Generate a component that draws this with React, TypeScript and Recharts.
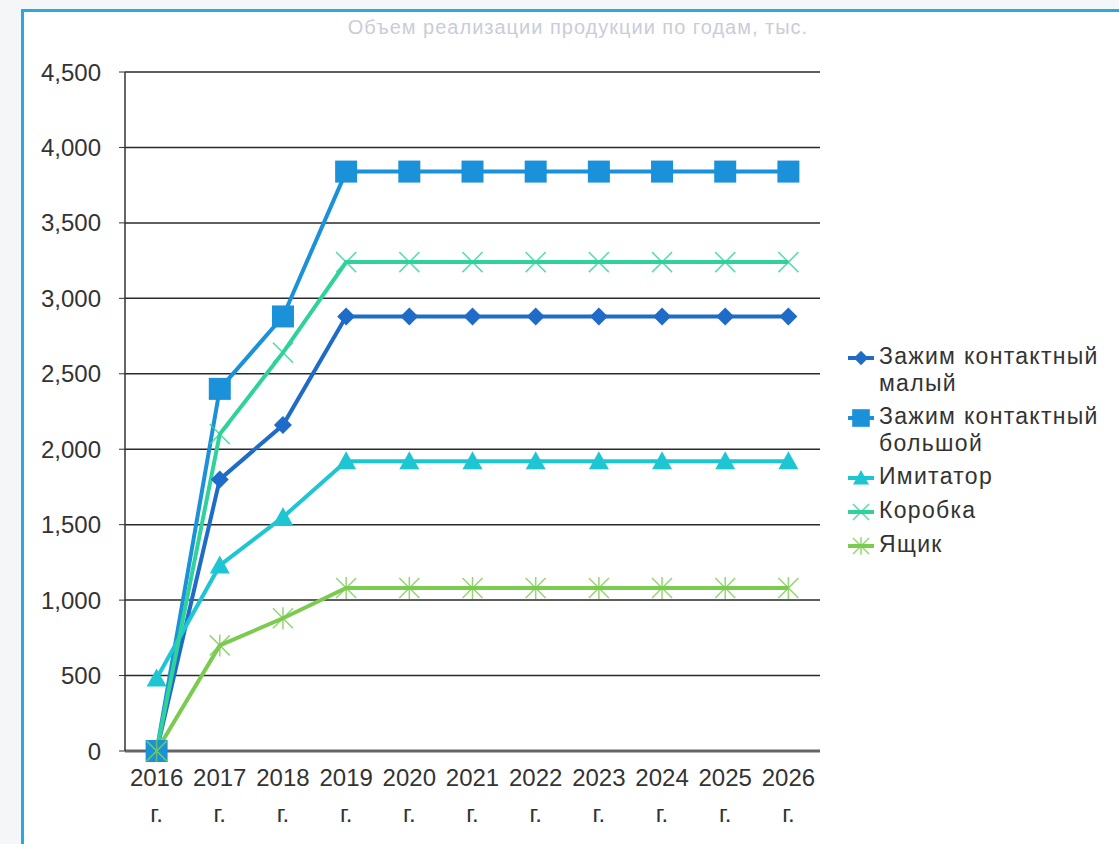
import { CartesianGrid, Line, LineChart, XAxis, YAxis } from "recharts";

const years = ["2016", "2017", "2018", "2019", "2020", "2021", "2022", "2023", "2024", "2025", "2026"];
const small = [0, 1800, 2160, 2880, 2880, 2880, 2880, 2880, 2880, 2880, 2880];
const big = [0, 2400, 2880, 3840, 3840, 3840, 3840, 3840, 3840, 3840, 3840];
const imitator = [480, 1230, 1550, 1920, 1920, 1920, 1920, 1920, 1920, 1920, 1920];
const box = [0, 2100, 2640, 3240, 3240, 3240, 3240, 3240, 3240, 3240, 3240];
const crate = [0, 700, 880, 1080, 1080, 1080, 1080, 1080, 1080, 1080, 1080];
const yTicks = [0, 500, 1000, 1500, 2000, 2500, 3000, 3500, 4000, 4500];

const title = "Объем реализации продукции по годам, тыс.";

type Mark = "diamond" | "square" | "triangle" | "cross" | "star";

const series: { key: string; name: string; color: string; mark: Mark; values: number[] }[] = [
  { key: "small", name: "Зажим контактный малый", color: "#1f6cc8", mark: "diamond", values: small },
  { key: "big", name: "Зажим контактный большой", color: "#1a91d9", mark: "square", values: big },
  { key: "imitator", name: "Имитатор", color: "#1ec6d4", mark: "triangle", values: imitator },
  { key: "box", name: "Коробка", color: "#2fd29a", mark: "cross", values: box },
  { key: "crate", name: "Ящик", color: "#7acb4f", mark: "star", values: crate },
];

const rows = years.map((y, i) => {
  const r: Record<string, string | number> = { year: y };
  series.forEach((s) => (r[s.key] = s.values[i]));
  return r;
});

const font = "'Liberation Sans', Arial, sans-serif";

function marker(mark: Mark, color: string, cx: number, cy: number, k = 1) {
  switch (mark) {
    case "diamond": {
      const d = 9 * k;
      return <path d={`M${cx},${cy - d}L${cx + d},${cy}L${cx},${cy + d}L${cx - d},${cy}Z`} fill={color} />;
    }
    case "square": {
      const d = 11 * k;
      return <rect x={cx - d} y={cy - d} width={2 * d} height={2 * d} fill={color} />;
    }
    case "triangle": {
      const d = 10 * k;
      return <path d={`M${cx},${cy - d}L${cx + d},${cy + d * 0.8}L${cx - d},${cy + d * 0.8}Z`} fill={color} />;
    }
    case "cross": {
      const d = 10 * k;
      return (
        <path
          d={`M${cx - d},${cy - d}L${cx + d},${cy + d}M${cx + d},${cy - d}L${cx - d},${cy + d}`}
          stroke={color}
          strokeWidth={1.5}
          strokeOpacity={0.8}
          fill="none"
        />
      );
    }
    case "star": {
      const d = 10 * k;
      return (
        <path
          d={`M${cx - d},${cy - d}L${cx + d},${cy + d}M${cx + d},${cy - d}L${cx - d},${cy + d}M${cx},${cy - d * 1.1}L${cx},${cy + d * 1.1}`}
          stroke={color}
          strokeWidth={1.5}
          strokeOpacity={0.8}
          fill="none"
        />
      );
    }
  }
}

const makeDot = (mark: Mark, color: string) => (p: any) => {
  if (p.cx == null || p.cy == null) return <g key={p.index} />;
  return <g key={p.index}>{marker(mark, color, p.cx, p.cy)}</g>;
};

const YearTick = ({ x, y, payload }: any) => (
  <g>
    <text x={x} y={y + 27} textAnchor="middle" fontSize={24} fill="#333" fontFamily={font}>
      {payload.value}
    </text>
    <text x={x} y={y + 63} textAnchor="middle" fontSize={24} fill="#333" fontFamily={font}>
      г.
    </text>
  </g>
);

export default function App() {
  return (
    <div
      style={{
        position: "absolute",
        left: 0,
        top: 0,
        width: 1119,
        height: 844,
        background: "#f4f6f8",
        overflow: "hidden",
        fontFamily: font,
      }}
    >
      <div
        style={{
          position: "absolute",
          left: 21,
          top: 9,
          width: 1110,
          height: 850,
          background: "#fff",
          borderLeft: "3px solid #2aa9e0",
          borderTop: "3px solid #2aa9e0",
        }}
      />
      <div
        style={{
          position: "absolute",
          left: 0,
          width: 1156,
          top: 16,
          textAlign: "center",
          fontSize: 20,
          color: "#c9cdd8",
          letterSpacing: 1,
        }}
      >
        {title}
      </div>
      <div style={{ position: "absolute", left: 0, top: 0 }}>
        <LineChart width={1119} height={844} data={rows} margin={{ top: 72, right: 299, left: 25, bottom: 13 }}>
          <CartesianGrid vertical={false} stroke="#2a2a2a" strokeWidth={1.5} />
          <XAxis
            dataKey="year"
            padding={{ left: 31.6, right: 31.6 }}
            height={80}
            tick={<YearTick />}
            tickLine={false}
            axisLine={{ stroke: "#666", strokeWidth: 3 }}
            interval={0}
          />
          <YAxis
            width={100}
            domain={[0, 4500]}
            ticks={yTicks}
            interval={0}
            tickFormatter={(v: number) => v.toLocaleString("en-US")}
            tick={{ fontSize: 24, fill: "#333", fontFamily: font }}
            tickLine={{ stroke: "#333" }}
            tickSize={6}
            tickMargin={18}
            axisLine={{ stroke: "#333", strokeWidth: 1.5 }}
          />
          {series.map((s) => (
            <Line
              key={s.key}
              type="linear"
              dataKey={s.key}
              name={s.name}
              stroke={s.color}
              strokeWidth={4}
              dot={makeDot(s.mark, s.color)}
              activeDot={false}
              isAnimationActive={false}
            />
          ))}
        </LineChart>
      </div>
      <div
        style={{
          position: "absolute",
          left: 845,
          top: 343,
          width: 274,
          fontSize: 23,
          letterSpacing: 1.3,
          color: "#333",
          lineHeight: "27px",
        }}
      >
        {series.map((s) => (
          <div key={s.key} style={{ display: "flex", alignItems: "flex-start", marginBottom: 6 }}>
            <svg width={30} height={27} style={{ flex: "none", marginRight: 4, marginTop: 1 }}>
              <line x1={3} y1={14} x2={29} y2={14} stroke={s.color} strokeWidth={4} />
              {marker(s.mark, s.color, 16, 14, 0.8)}
            </svg>
            <span style={{ width: 240 }}>{s.name}</span>
          </div>
        ))}
      </div>
    </div>
  );
}
